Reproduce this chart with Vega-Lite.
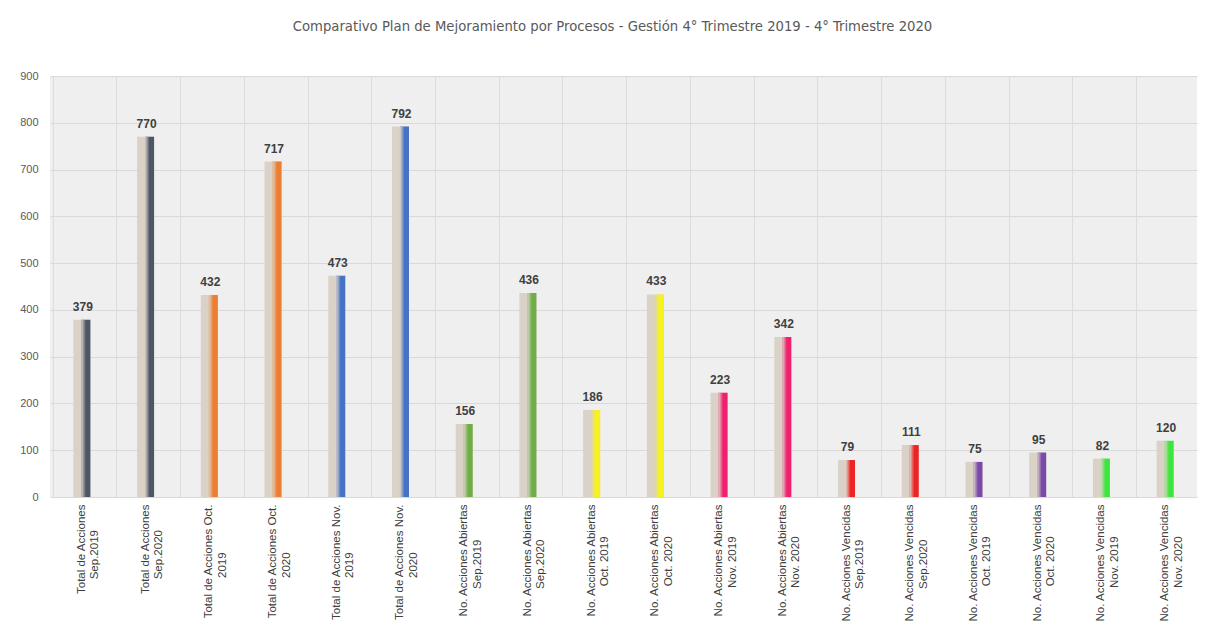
{
  "$schema": "https://vega.github.io/schema/vega-lite/v6.json",
  "autosize": "none",
  "width": 1147,
  "height": 421,
  "padding": {"left": 50, "top": 76, "right": 20, "bottom": 143},
  "background": "#ffffff",
  "title": {
    "text": "Comparativo Plan de Mejoramiento por Procesos - Gestión 4° Trimestre 2019 - 4° Trimestre 2020",
    "font": "Liberation Sans Narrow, DejaVu Sans Condensed, sans-serif",
    "fontSize": 14.7,
    "fontWeight": "normal",
    "color": "#595959",
    "anchor": "middle",
    "dx": -11,
    "offset": 36
  },
  "config": {
    "view": {"fill": "#efefef", "stroke": null},
    "font": "Liberation Sans"
  },
  "data": {
    "values": [
      {"cat": "Total de Acciones|Sep.2019", "v": 379, "g": "TotSep"},
      {"cat": "Total de Acciones|Sep.2020", "v": 770, "g": "TotSep"},
      {"cat": "Total de Acciones Oct.|2019", "v": 432, "g": "TotOct"},
      {"cat": "Total de Acciones Oct.|2020", "v": 717, "g": "TotOct"},
      {"cat": "Total de Acciones Nov.|2019", "v": 473, "g": "TotNov"},
      {"cat": "Total de Acciones Nov.|2020", "v": 792, "g": "TotNov"},
      {"cat": "No. Acciones Abiertas|Sep.2019", "v": 156, "g": "AbSep"},
      {"cat": "No. Acciones Abiertas|Sep.2020", "v": 436, "g": "AbSep"},
      {"cat": "No. Acciones Abiertas|Oct. 2019", "v": 186, "g": "AbOct"},
      {"cat": "No. Acciones Abiertas|Oct. 2020", "v": 433, "g": "AbOct"},
      {"cat": "No. Acciones Abiertas|Nov. 2019", "v": 223, "g": "AbNov"},
      {"cat": "No. Acciones Abiertas|Nov. 2020", "v": 342, "g": "AbNov"},
      {"cat": "No. Acciones Vencidas|Sep.2019", "v": 79, "g": "VeSep"},
      {"cat": "No. Acciones Vencidas|Sep.2020", "v": 111, "g": "VeSep"},
      {"cat": "No. Acciones Vencidas|Oct. 2019", "v": 75, "g": "VeOct"},
      {"cat": "No. Acciones Vencidas|Oct. 2020", "v": 95, "g": "VeOct"},
      {"cat": "No. Acciones Vencidas|Nov. 2019", "v": 82, "g": "VeNov"},
      {"cat": "No. Acciones Vencidas|Nov. 2020", "v": 120, "g": "VeNov"}
    ]
  },
  "encoding": {
    "x": {
      "field": "cat",
      "type": "nominal",
      "sort": null,
      "title": null,
      "axis": {
        "bandPosition": 0,
        "grid": true,
        "gridColor": "#dcdcdc",
        "gridWidth": 1,
        "ticks": false,
        "domain": false,
        "labelAngle": -90,
        "labelAlign": "right",
        "labelBaseline": "middle",
        "labelPadding": 7,
        "labelFontSize": 11.5,
        "labelLineHeight": 13.5,
        "labelColor": "#404040",
        "labelFont": "Liberation Sans",
        "labelLimit": 300,
        "labelExpr": "[split(datum.label,'|')[0], pad(split(datum.label,'|')[1], length(split(datum.label,'|')[1]) + round((length(split(datum.label,'|')[0]) - length(split(datum.label,'|')[1])) * 0.85), '\u00a0', 'right') + '\u2060']"
      }
    },
    "y": {
      "field": "v",
      "type": "quantitative",
      "title": null,
      "scale": {"domain": [0, 900], "nice": false},
      "axis": {
        "values": [0, 100, 200, 300, 400, 500, 600, 700, 800, 900],
        "grid": true,
        "gridColor": "#d9d9d9",
        "ticks": false,
        "domain": false,
        "labelPadding": 12,
        "labelFontSize": 11,
        "labelColor": "#595959",
        "labelFont": "Liberation Sans"
      }
    }
  },
  "layer": [
    {
      "mark": {"type": "bar", "width": 17, "color": "#dad2c6"}
    },
    {
      "mark": {"type": "bar", "width": 9, "xOffset": 4},
      "encoding": {
        "color": {
          "field": "g",
          "type": "nominal",
          "legend": null,
          "scale": {
            "domain": ["TotSep", "TotOct", "TotNov", "AbSep", "AbOct", "AbNov", "VeSep", "VeOct", "VeNov"],
            "range": ["#4d5566", "#ed7d31", "#4472c4", "#70ad47", "#f7f21c", "#f0206e", "#ec2424", "#7a4aa8", "#3de63d"]
          }
        }
      }
    },
    {
      "mark": {
        "type": "bar",
        "width": 9,
        "xOffset": 4,
        "fill": {
          "gradient": "linear",
          "x1": 0, "y1": 0, "x2": 1, "y2": 0,
          "stops": [
            {"offset": 0, "color": "rgba(218,210,198,1)"},
            {"offset": 0.5, "color": "rgba(218,210,198,0)"},
            {"offset": 1, "color": "rgba(218,210,198,0)"}
          ]
        }
      }
    },
    {
      "mark": {
        "type": "text",
        "baseline": "alphabetic",
        "dy": -9,
        "dx": 1,
        "fontSize": 12,
        "fontWeight": "bold",
        "color": "#404040",
        "font": "Liberation Sans"
      },
      "encoding": {
        "text": {"field": "v", "type": "quantitative"}
      }
    }
  ]
}
